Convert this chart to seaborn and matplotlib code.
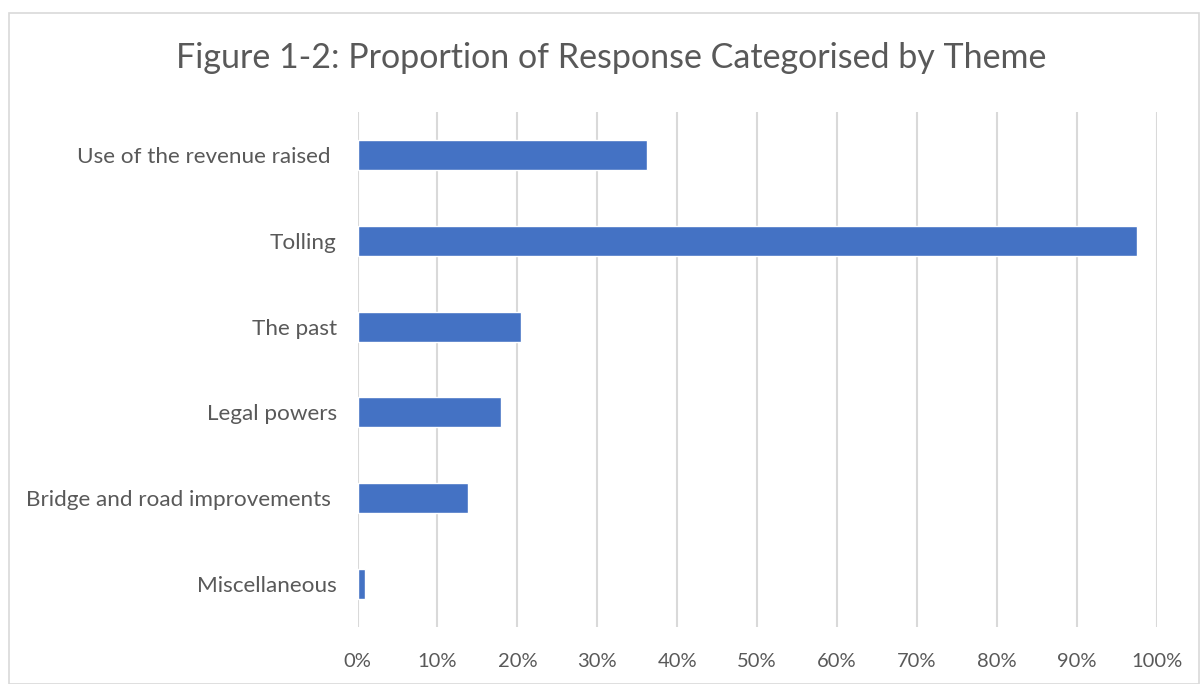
import matplotlib
matplotlib.use("Agg")
import matplotlib.pyplot as plt
import matplotlib.patches as mpatches
import seaborn as sns
import pandas as pd
from matplotlib.ticker import FuncFormatter

categories = ["Use of the revenue raised ", "Tolling", "The past", "Legal powers",
              "Bridge and road improvements ", "Miscellaneous"]
values = [36.2, 97.5, 20.5, 18.0, 13.8, 0.9]
xticks = list(range(0, 101, 10))

df = pd.DataFrame({"Theme": categories, "Share": values})

sns.set_theme(style="white")
plt.rcParams["font.family"] = ["Lato", "DejaVu Sans"]

fig = plt.figure(figsize=(12.01, 6.84), dpi=100)
ax = fig.add_axes([357.5 / 1201, 1 - 627 / 684, (1156.7 - 357.5) / 1201, (627 - 112) / 684])

sns.barplot(data=df, x="Share", y="Theme", color="#4472C4", width=0.35,
            saturation=1, ax=ax, zorder=3)

ax.set_xlim(0, 100)
ax.set_xticks(xticks)
ax.xaxis.set_major_formatter(FuncFormatter(lambda v, p: f"{int(v)}%"))
ax.grid(axis="x", color="#D9D9D9", linewidth=1.5, zorder=0)
ax.set_axisbelow(True)
for s in ax.spines.values():
    s.set_visible(False)
ax.set_xlabel("")
ax.set_ylabel("")
ax.tick_params(axis="x", length=0, pad=19, labelsize=14.5, labelcolor="#595959")
ax.tick_params(axis="y", length=0, pad=15, labelsize=16.2, labelcolor="#595959")

fig.text(611 / 1201, 1 - 58 / 684, "Figure 1-2: Proportion of Response Categorised by Theme",
         ha="center", va="center", fontsize=24.5, color="#595959")

border = mpatches.Rectangle((9 / 1201, 0), (1199 - 9) / 1201, 1 - 12.5 / 684,
                            transform=fig.transFigure, fill=False,
                            edgecolor="#D9D9D9", linewidth=1.2)
fig.add_artist(border)

fig.savefig("out.png", dpi=100)
